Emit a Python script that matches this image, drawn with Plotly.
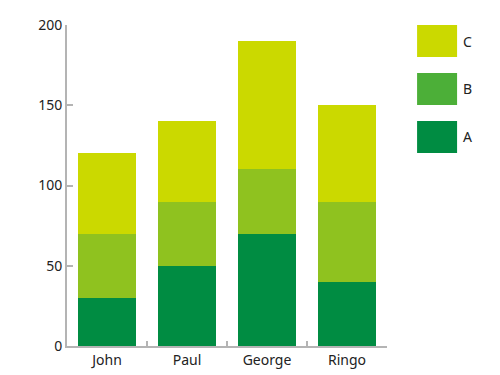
import plotly.graph_objects as go

categories = ["John", "Paul", "George", "Ringo"]
series_a = [30, 50, 70, 40]
series_b = [40, 40, 40, 50]
series_c = [50, 50, 80, 60]
series_names = ["A", "B", "C"]
y_ticks = [0, 50, 100, 150, 200]

bar_colors = {"A": "#008c42", "B": "#8fc21f", "C": "#cbd900"}
legend_colors = {"A": "#008c42", "B": "#4caf38", "C": "#cbd900"}
font_family = "Noto Sans, Open Sans, sans-serif"

fig = go.Figure()
for name, vals in zip(series_names, [series_a, series_b, series_c]):
    fig.add_trace(go.Bar(x=categories, y=vals, name=name,
                         marker=dict(color=bar_colors[name], line=dict(width=0)),
                         showlegend=False))

fig.update_layout(
    barmode="stack",
    bargap=0.28,
    width=500, height=375,
    margin=dict(l=67, r=113, t=25, b=29, autoexpand=False),
    plot_bgcolor="white", paper_bgcolor="white",
    font=dict(family=font_family, size=14, color="#222"),
    xaxis=dict(showline=True, linecolor="#b4b4b4", linewidth=2, automargin=False,
               ticks="inside", tickson="boundaries", ticklen=5, tickwidth=2,
               tickcolor="#b4b4b4", showgrid=False, range=[-0.5, 3.5]),
    yaxis=dict(range=[0, 200], tickvals=y_ticks, showline=True, automargin=False,
               linecolor="#b4b4b4", linewidth=2, ticks="inside", ticklen=6,
               tickwidth=2, tickcolor="#b4b4b4", showgrid=False, zeroline=False),
)

# custom legend
legend_order = ["C", "B", "A"]
for i, name in enumerate(legend_order):
    y1 = 1.0 - i * 0.1495
    y0 = y1 - 0.0997
    fig.add_shape(type="rect", xref="paper", yref="paper",
                  x0=1.094, x1=1.219, y0=y0, y1=y1,
                  fillcolor=legend_colors[name], line=dict(width=0))
    fig.add_annotation(xref="paper", yref="paper", x=1.23, y=(y0 + y1) / 2,
                       text=name, showarrow=False, xanchor="left", yanchor="middle",
                       font=dict(size=14, color="#222"))

fig.write_html("out.html")
